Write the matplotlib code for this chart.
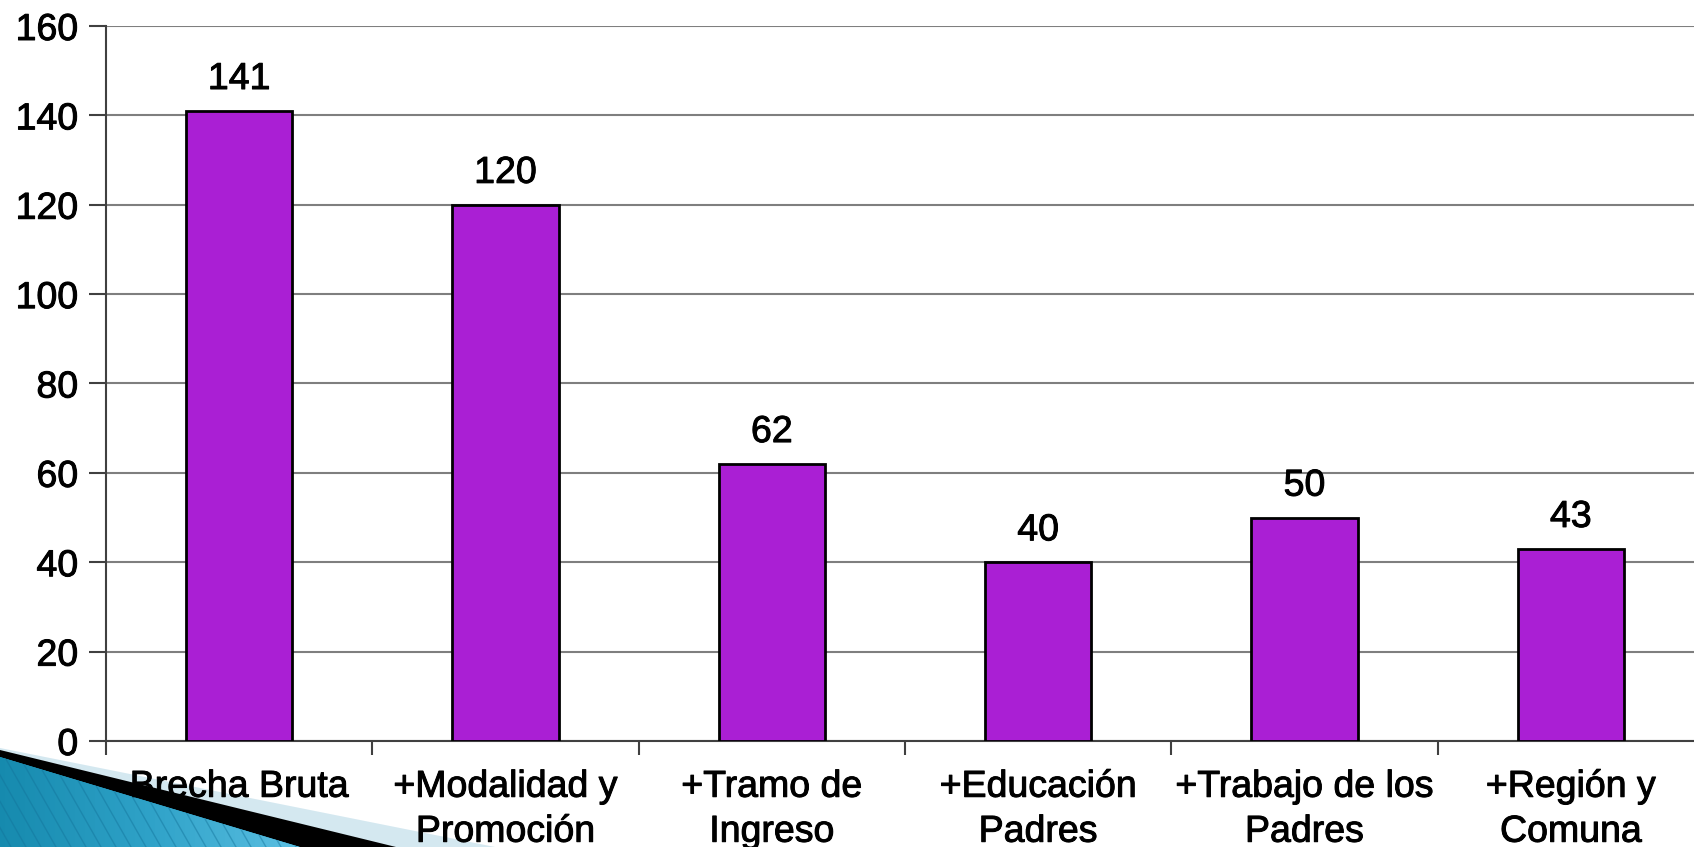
import matplotlib
matplotlib.use('Agg')
import matplotlib.pyplot as plt
import matplotlib.patheffects as pe
import numpy as np
from matplotlib.patches import Polygon
from matplotlib.colors import LinearSegmentedColormap

categories = ['Brecha Bruta', '+Modalidad y\nPromoción', '+Tramo de\nIngreso',
              '+Educación\nPadres', '+Trabajo de los\nPadres', '+Región y\nComuna']
values = [141, 120, 62, 40, 50, 43]
yticks = [0, 20, 40, 60, 80, 100, 120, 140, 160]

plt.rcParams['font.family'] = ['Liberation Sans', 'DejaVu Sans']
bold_fx = [pe.withStroke(linewidth=0.7, foreground='black')]

W, H = 1694, 847
fig = plt.figure(figsize=(W / 100, H / 100), dpi=100)

# slide decoration in the bottom-left corner (pixel coords)
deco = fig.add_axes([0, 0, 1, 1], zorder=0)
deco.set_xlim(0, W)
deco.set_ylim(H, 0)
deco.axis('off')
deco.add_patch(Polygon([(0, 748), (495, H), (0, H)], closed=True,
                       facecolor='#d4e8f0', edgecolor='none'))
deco.add_patch(Polygon([(0, 750), (396, H), (0, H)], closed=True,
                       facecolor='black', edgecolor='none'))
blue = Polygon([(0, 757), (300, H), (0, H)], closed=True,
               facecolor='#2a9cc4', edgecolor='none')
deco.add_patch(blue)
cmap = LinearSegmentedColormap.from_list('b', ['#168aae', '#2fa2c8', '#5cc0e2'])
xs = np.linspace(0, 300, 61)
for xa, xb in zip(xs[:-1], xs[1:]):
    c = cmap(xa / 300)
    sl = Polygon([(xa, 757 + 0.3 * xa), (xb, 757 + 0.3 * xb), (xb, H), (xa, H)],
                 closed=True, facecolor=c, edgecolor=c, linewidth=0.5)
    deco.add_patch(sl)
    sl.set_clip_path(blue)
for x0 in np.arange(-80, 300, 15):
    ln, = deco.plot([x0, x0 + 0.57 * (H - 740)], [740, H], color='#13739a',
                    lw=1.0, alpha=0.45)
    ln.set_clip_path(blue)

# main chart
ax = fig.add_axes([106 / W, 1 - 741 / H, (1704 - 106) / W, (741 - 26) / H], zorder=1)
x = np.arange(len(categories))
ax.bar(x, values, width=0.4, color='#aa1fd4', edgecolor='black', linewidth=2, zorder=3)
for xi, v in zip(x, values):
    ax.annotate(str(v), (xi, v), xytext=(0, 10), textcoords='offset points',
                ha='center', va='bottom', fontsize=27, path_effects=bold_fx)

ax.set_xlim(-0.5, len(categories) - 0.5)
ax.set_ylim(0, 160)
ax.set_yticks(yticks)
ax.set_yticklabels([str(t) for t in yticks], fontsize=27)
ax.yaxis.grid(True, color='#7f7f7f', linewidth=1.5, zorder=0)
ax.set_axisbelow(True)

ax.set_xticks(x)
ax.set_xticklabels(categories, fontsize=27, linespacing=1.32)
ax.set_xticks(np.arange(-0.5, len(categories) + 0.5, 1), minor=True)
ax.tick_params(axis='x', which='major', length=0, pad=20)
ax.tick_params(axis='x', which='minor', length=10, width=1.5, color='#404040')
ax.tick_params(axis='y', length=12, width=1.5, color='#404040', pad=8)
for lab in ax.get_xticklabels() + ax.get_yticklabels():
    lab.set_path_effects(bold_fx)

for s in ['top', 'right']:
    ax.spines[s].set_visible(False)
for s in ['left', 'bottom']:
    ax.spines[s].set_color('#404040')
    ax.spines[s].set_linewidth(1.5)

fig.savefig('out.png', dpi=100)
